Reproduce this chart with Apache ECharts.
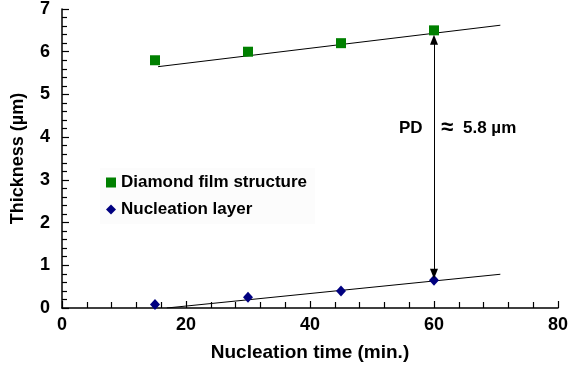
<!DOCTYPE html>
<html>
<head>
<meta charset="utf-8">
<script src="https://cdn.jsdelivr.net/npm/echarts@6/dist/echarts.min.js"></script>
<style>html,body{margin:0;padding:0;background:#fff}#c{width:571px;height:371px}</style>
</head>
<body>
<div id="c"></div>
<script>
// Data
var timeMin = [15, 30, 45, 60];
var diamondFilm = [5.8, 6.0, 6.2, 6.5];
var nucleationLayer = [0.08, 0.25, 0.4, 0.65];
var diamondFitX = [15.5, 70.7];
var diamondFitY = [5.65, 6.62];
var nucleationFitX = [16.9, 70.7];
var nucleationFitY = [0.0, 0.79];
var arrowX = 60;
var arrowY = [0.8, 6.28];
var seriesNames = ['Diamond film structure', 'Nucleation layer'];

function pairs(xs, ys) { return xs.map(function (x, i) { return [x, ys[i]]; }); }

var FONT = 'Liberation Sans, Arial, sans-serif';
var chart = echarts.init(document.getElementById('c'));
chart.setOption({
  animation: false,
  backgroundColor: '#fff',
  grid: { left: 62, right: 12, top: 7, bottom: 63, containLabel: false },
  legend: {
    orient: 'vertical', left: 100, top: 168,
    itemWidth: 10, itemHeight: 10, itemGap: 10,
    padding: [6, 8, 6, 6],
    backgroundColor: '#fcfcfc',
    textStyle: { fontFamily: FONT, fontWeight: 'bold', fontSize: 17, color: '#000' },
    data: [
      { name: seriesNames[0], icon: 'rect' },
      { name: seriesNames[1], icon: 'diamond' }
    ]
  },
  xAxis: {
    type: 'value', min: 0, max: 80, interval: 20,
    name: 'Nucleation time (min.)', nameLocation: 'middle', nameGap: 35,
    nameTextStyle: { fontFamily: FONT, fontWeight: 'bold', fontSize: 19, color: '#000' },
    axisLine: { show: true, lineStyle: { color: '#000', width: 1.5 } },
    axisTick: { show: true, inside: true, length: 7, lineStyle: { color: '#000', width: 1.2 } },
    minorTick: { show: true, splitNumber: 5, length: 6, lineStyle: { color: '#000', width: 1.2 } },
    splitLine: { show: false },
    axisLabel: { fontFamily: FONT, fontWeight: 'bold', fontSize: 18, color: '#000', margin: 8 }
  },
  yAxis: {
    type: 'value', min: 0, max: 7, interval: 1,
    name: 'Thickness (µm)', nameLocation: 'middle', nameGap: 35,
    nameTextStyle: { fontFamily: FONT, fontWeight: 'bold', fontSize: 18, color: '#000' },
    axisLine: { show: true, lineStyle: { color: '#000', width: 1.5 } },
    axisTick: { show: true, inside: true, length: 7, lineStyle: { color: '#000', width: 1.2 } },
    minorTick: { show: true, splitNumber: 5, length: 5, lineStyle: { color: '#000', width: 1.2 } },
    splitLine: { show: false },
    axisLabel: { fontFamily: FONT, fontWeight: 'bold', fontSize: 18, color: '#000', margin: 12 }
  },
  series: [
    {
      type: 'line', data: pairs(diamondFitX, diamondFitY), showSymbol: false, symbol: 'none',
      lineStyle: { color: '#000', width: 1 }, silent: true, z: 1
    },
    {
      type: 'line', data: pairs(nucleationFitX, nucleationFitY), showSymbol: false, symbol: 'none',
      lineStyle: { color: '#000', width: 1 }, silent: true, z: 1,
      markLine: {
        silent: true, symbol: ['triangle', 'triangle'], symbolSize: [8, 10],
        lineStyle: { color: '#000', width: 1, type: 'solid' },
        label: { show: false },
        data: [[{ coord: [arrowX, arrowY[0]] }, { coord: [arrowX, arrowY[1]] }]]
      }
    },
    {
      name: seriesNames[0], type: 'scatter', data: pairs(timeMin, diamondFilm),
      symbol: 'rect', symbolSize: 10, itemStyle: { color: '#008000', opacity: 1 }, z: 3
    },
    {
      name: seriesNames[1], type: 'scatter', data: pairs(timeMin, nucleationLayer),
      symbol: 'diamond', symbolSize: [10, 11], itemStyle: { color: '#000080', opacity: 1 }, z: 3
    }
  ],
  graphic: [
    { type: 'text', left: 399, top: 120, style: { text: 'PD', font: 'bold 17px ' + FONT, fill: '#000' } },
    { type: 'text', left: 441, top: 117, style: { text: '≈', font: 'bold 22px ' + FONT, fill: '#000' } },
    { type: 'text', left: 463, top: 120, style: { text: '5.8 µm', font: 'bold 17px ' + FONT, fill: '#000' } }
  ]
});
</script>
</body>
</html>
